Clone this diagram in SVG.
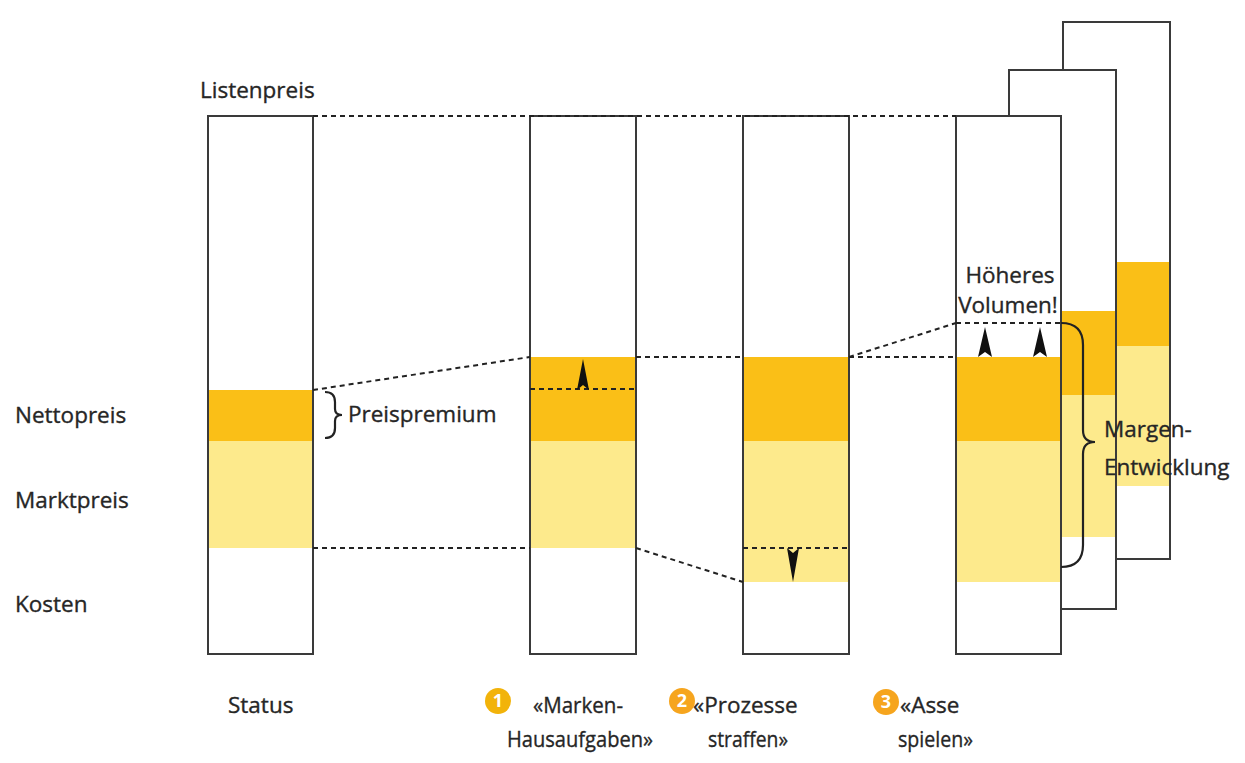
<svg xmlns="http://www.w3.org/2000/svg" width="1245" height="763" viewBox="0 0 1245 763">
<style>
.bar{fill:#fff;stroke:#3a3a3a;stroke-width:2}
.frame{fill:none;stroke:#3a3a3a;stroke-width:2}
.o{fill:#fabf17}
.y{fill:#fdea8c}
.d{fill:none;stroke:#222;stroke-width:2;stroke-dasharray:5 4}
.br{fill:none;stroke:#222;stroke-width:2.2}
.ah{fill:#111}
text{font-family:"Open Sans","Liberation Sans",sans-serif;font-size:22.5px;fill:#262626;stroke:#262626;stroke-width:0.35}
.num{font-size:18px;fill:#fff;stroke:none;font-weight:bold;text-anchor:middle}
.c1{fill:#f2b30a}
.c2{fill:#f6a51e}
</style>
<rect width="1245" height="763" fill="#fff"/>
<g id="labels-left">
<text x="200" y="98">Listenpreis</text>
<text x="15" y="423">Nettopreis</text>
<text x="15" y="508">Marktpreis</text>
<text x="15" y="612">Kosten</text>
</g>
<g id="bar6">
<rect class="bar" x="1063" y="22" width="107" height="537"/>
<rect class="o" x="1064" y="262" width="105" height="84"/>
<rect class="y" x="1064" y="346" width="105" height="140"/>
<rect class="frame" x="1063" y="22" width="107" height="537"/>
</g>
<g id="bar5">
<rect class="bar" x="1009" y="70" width="107" height="539"/>
<rect class="o" x="1010" y="311" width="105" height="84"/>
<rect class="y" x="1010" y="395" width="105" height="142"/>
<rect class="frame" x="1009" y="70" width="107" height="539"/>
</g>
<g id="bar-status">
<rect class="bar" x="208" y="116" width="105" height="538"/>
<rect class="o" x="209" y="390" width="103" height="51"/>
<rect class="y" x="209" y="441" width="103" height="107"/>
<rect class="frame" x="208" y="116" width="105" height="538"/>
<text x="228" y="713">Status</text>
</g>
<g id="bar1">
<rect class="bar" x="530" y="116" width="106" height="538"/>
<rect class="o" x="531" y="357" width="104" height="84"/>
<rect class="y" x="531" y="441" width="104" height="107"/>
<rect class="frame" x="530" y="116" width="106" height="538"/>
<circle class="c1" cx="498" cy="701" r="13"/>
<text class="num" x="498" y="707">1</text>
<text x="533" y="713" textLength="90" lengthAdjust="spacingAndGlyphs">«Marken-</text>
<text x="507" y="747" textLength="146" lengthAdjust="spacingAndGlyphs">Hausaufgaben»</text>
</g>
<g id="bar2">
<rect class="bar" x="743" y="116" width="106" height="538"/>
<rect class="o" x="744" y="357" width="104" height="84"/>
<rect class="y" x="744" y="441" width="104" height="141"/>
<rect class="frame" x="743" y="116" width="106" height="538"/>
<circle class="c2" cx="682" cy="701" r="13"/>
<text class="num" x="682" y="707">2</text>
<text x="693" y="713">«Prozesse</text>
<text x="708" y="747" textLength="80" lengthAdjust="spacingAndGlyphs">straffen»</text>
</g>
<g id="bar3">
<rect class="bar" x="956" y="116" width="105" height="538"/>
<rect class="o" x="957" y="357" width="103" height="84"/>
<rect class="y" x="957" y="441" width="103" height="141"/>
<rect class="frame" x="956" y="116" width="105" height="538"/>
<circle class="c2" cx="886" cy="702" r="13"/>
<text class="num" x="886" y="708">3</text>
<text x="900" y="713">«Asse</text>
<text x="898" y="747" textLength="75" lengthAdjust="spacingAndGlyphs">spielen»</text>
<text x="1010" y="283" text-anchor="middle">Höheres</text>
<text x="1008" y="313" text-anchor="middle">Volumen!</text>
</g>
<g id="connectors">
<line class="d" x1="313" y1="116" x2="956" y2="116"/>
<line class="d" x1="313" y1="390" x2="530" y2="357"/>
<line class="d" x1="530" y1="389" x2="636" y2="389"/>
<line class="d" x1="636" y1="357" x2="743" y2="357"/>
<line class="d" x1="849" y1="357" x2="956" y2="357"/>
<line class="d" x1="849" y1="357" x2="956" y2="323"/>
<line class="d" x1="956" y1="323" x2="1061" y2="323"/>
<line class="d" x1="313" y1="548" x2="530" y2="548"/>
<line class="d" x1="636" y1="548" x2="743" y2="582"/>
<line class="d" x1="743" y1="548" x2="849" y2="548"/>
<path class="ah" d="M583,359 L589,390 L583,385 L577,390 Z"/>
<path class="ah" d="M793,582 L799,548 L793,553 L787,548 Z"/>
<path class="ah" d="M985,327 L992,357 L985,352 L978,357 Z"/>
<path class="ah" d="M1040,327 L1047,357 L1040,352 L1033,357 Z"/>
<path class="br" d="M325,392 Q335,392 335,402 L335,409 Q335,415 342,415 Q335,415 335,421 L335,428 Q335,438 325,438"/>
<text x="348" y="422">Preispremium</text>
<path class="br" d="M1061,323 Q1083,323 1083,345 L1083,430 Q1083,442 1095,442 Q1083,442 1083,454 L1083,545 Q1083,567 1061,567"/>
<text x="1104" y="437">Margen-</text>
<text x="1104" y="475">Entwicklung</text>
</g>
</svg>
